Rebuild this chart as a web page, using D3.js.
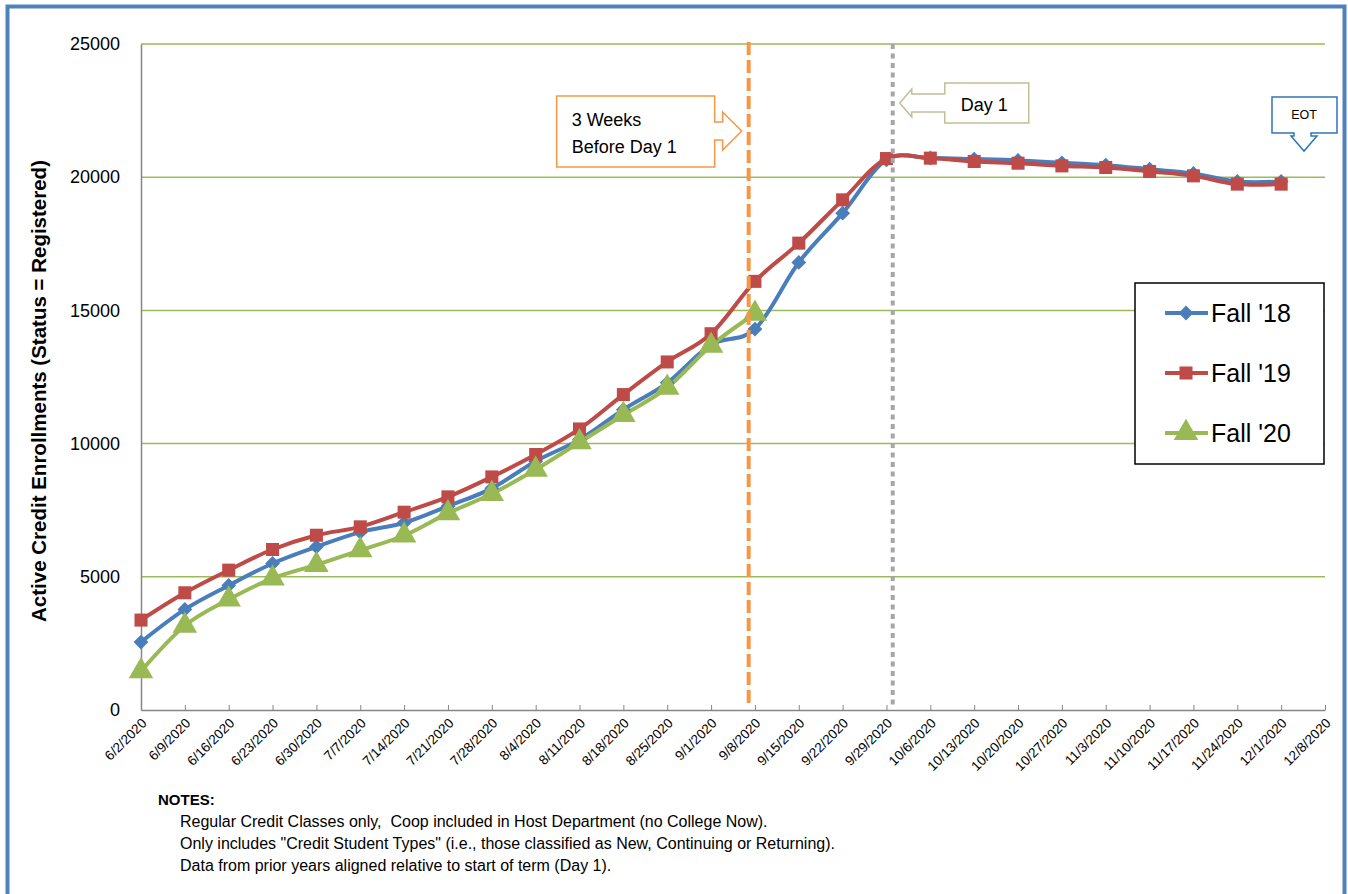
<!DOCTYPE html>
<html>
<head>
<meta charset="utf-8">
<script src="https://cdn.jsdelivr.net/npm/d3@7"></script>
<style>
  body { margin: 0; background: #fff; }
  text { font-family: "Liberation Sans", Arial, sans-serif; white-space: pre; }
</style>
</head>
<body>
<div id="chart"></div>
<script>
// week labels on the x axis
var weekLabels = ["6/2/2020", "6/9/2020", "6/16/2020", "6/23/2020", "6/30/2020", "7/7/2020",
    "7/14/2020", "7/21/2020", "7/28/2020", "8/4/2020", "8/11/2020", "8/18/2020", "8/25/2020",
    "9/1/2020", "9/8/2020", "9/15/2020", "9/22/2020", "9/29/2020", "10/6/2020", "10/13/2020",
    "10/20/2020", "10/27/2020", "11/3/2020", "11/10/2020", "11/17/2020", "11/24/2020",
    "12/1/2020", "12/8/2020"];

var yTicks = [0, 5000, 10000, 15000, 20000, 25000];

// enrollments per week
var fall18 = [2550, 3775, 4675, 5500, 6125, 6675, 7025, 7650, 8320, 9340, 10150, 11275, 12280,
    13715, 14300, 16800, 18650, 20650, 20720, 20680, 20630, 20540, 20450, 20300, 20140, 19840, 19840];
var fall19 = [3375, 4400, 5250, 6025, 6560, 6875, 7425, 8000, 8750, 9590, 10550, 11840, 13065,
    14125, 16090, 17525, 19150, 20700, 20715, 20590, 20525, 20425, 20365, 20215, 20050, 19740, 19740];
var fall20 = [1460, 3165, 4150, 4940, 5450, 6000, 6550, 7390, 8115, 9025, 10050, 11075, 12100,
    13675, 14875];

var seriesNames = ["Fall '18", "Fall '19", "Fall '20"];
var seriesColors = ["#4a7ebb", "#be4b48", "#98b954"];
// diamond = square turned 45 degrees
var seriesShapes = [d3.symbolSquare, d3.symbolSquare, d3.symbolTriangle];
var seriesTurn = [45, 0, 0];
var markerSize = [110, 170, 260];

var threeWeeksDate = "9/7/2020";
var day1Date = "9/30/2020";
var eotDate = "12/8/2020";

var notes = [
    "Regular Credit Classes only,  Coop included in Host Department (no College Now).",
    "Only includes \"Credit Student Types\" (i.e., those classified as New, Continuing or Returning).",
    "Data from prior years aligned relative to start of term (Day 1)."
];

var W = 1348, H = 894;
var margin = { top: 44, right: 23, bottom: 184, left: 141 };
var width = W - margin.left - margin.right,
    height = H - margin.top - margin.bottom;

var parse = d3.utcParse("%m/%d/%Y");
var dates = weekLabels.map(parse);

var svg = d3.select("#chart").append("svg")
    .attr("width", W)
    .attr("height", H);

// outer frame
svg.append("rect")
    .attr("x", 7.5).attr("y", 6.5)
    .attr("width", 1337).attr("height", 905)
    .attr("fill", "none")
    .attr("stroke", "#4f81bd")
    .attr("stroke-width", 4);

var g = svg.append("g")
    .attr("transform", "translate(" + margin.left + "," + margin.top + ")");

var x = d3.scaleUtc()
    .domain([dates[0], dates[dates.length - 1]])
    .range([0, width]);

var y = d3.scaleLinear()
    .domain([0, 25000])
    .range([height, 0]);

// gridlines
g.selectAll(".grid")
    .data(yTicks.filter(function(d) { return d > 0; }))
    .join("line")
    .attr("x1", 0).attr("x2", width)
    .attr("y1", function(d) { return y(d); })
    .attr("y2", function(d) { return y(d); })
    .attr("stroke", "#9bbb59")
    .attr("stroke-width", 1.5);

// y axis
var yAxis = g.append("g")
    .call(d3.axisLeft(y).tickValues(yTicks).tickSize(0).tickPadding(21).tickFormat(d3.format("d")));
yAxis.select(".domain").attr("stroke", "#868686").attr("stroke-width", 1.5);
yAxis.selectAll(".tick text")
    .attr("font-size", "18px")
    .attr("fill", "#000")
    .attr("font-family", "Liberation Sans, Arial, sans-serif");

// x axis
var xAxis = g.append("g")
    .attr("transform", "translate(0," + height + ")")
    .call(d3.axisBottom(x).tickValues(dates).tickSizeInner(-5).tickSizeOuter(0)
        .tickFormat(function(d, i) { return weekLabels[i]; }));
xAxis.select(".domain").attr("stroke", "#868686").attr("stroke-width", 1.5);
xAxis.selectAll(".tick line").attr("stroke", "#868686");
xAxis.selectAll(".tick text")
    .attr("font-size", "13.5px")
    .attr("fill", "#000")
    .attr("font-family", "Liberation Sans, Arial, sans-serif")
    .attr("text-anchor", "end")
    .attr("y", 0)
    .attr("dy", "0")
    .attr("transform", "translate(6,14) rotate(-45)");

// y axis title
svg.append("text")
    .attr("transform", "translate(46,391) rotate(-90)")
    .attr("text-anchor", "middle")
    .attr("font-size", "20.5px")
    .attr("font-weight", "bold")
    .text("Active Credit Enrollments (Status = Registered)");

// series lines and markers
var allSeries = [fall18, fall19, fall20];
var line = d3.line()
    .curve(d3.curveCardinal.tension(0))
    .x(function(d, i) { return x(dates[i]); })
    .y(function(d) { return y(d); });

allSeries.forEach(function(vals, s) {
    g.append("path")
        .datum(vals)
        .attr("fill", "none")
        .attr("stroke", seriesColors[s])
        .attr("stroke-width", 4)
        .attr("stroke-linejoin", "round")
        .attr("d", line);
});
allSeries.forEach(function(vals, s) {
    g.selectAll(".m" + s)
        .data(vals)
        .join("path")
        .attr("transform", function(d, i) {
            return "translate(" + x(dates[i]) + "," + y(d) + ") rotate(" + seriesTurn[s] + ")";
        })
        .attr("d", d3.symbol().type(seriesShapes[s]).size(markerSize[s]))
        .attr("fill", seriesColors[s]);
});

// reference lines
var xOrange = x(parse(threeWeeksDate));
var xGray = x(parse(day1Date));

g.append("line")
    .attr("x1", xOrange).attr("x2", xOrange)
    .attr("y1", -2).attr("y2", height - 2)
    .attr("stroke", "#f79646")
    .attr("stroke-width", 4)
    .attr("stroke-dasharray", "13,5");

g.append("line")
    .attr("x1", xGray).attr("x2", xGray)
    .attr("y1", 0).attr("y2", height - 3)
    .attr("stroke", "#a6a6a6")
    .attr("stroke-width", 4)
    .attr("stroke-dasharray", "5,4.5");

// callout: 3 weeks before day 1 (right arrow)
var ox = margin.left + xOrange, oy = margin.top;
var c1 = { l: ox - 192, r: ox - 34, t: oy + 52, b: oy + 123, tip: ox - 7, mid: oy + 87 };
svg.append("path")
    .attr("d", "M" + c1.l + "," + c1.t + "H" + c1.r + "V" + (c1.mid - 9) + "H" + (c1.r + 8) +
        "V" + (c1.mid - 19) + "L" + c1.tip + "," + c1.mid + "L" + (c1.r + 8) + "," + (c1.mid + 19) +
        "V" + (c1.mid + 9) + "H" + c1.r + "V" + c1.b + "H" + c1.l + "Z")
    .attr("fill", "#fff")
    .attr("stroke", "#f79646")
    .attr("stroke-width", 1.5);
svg.append("text").attr("x", c1.l + 15).attr("y", c1.t + 30)
    .attr("font-size", "18px").text("3 Weeks");
svg.append("text").attr("x", c1.l + 15).attr("y", c1.t + 57)
    .attr("font-size", "18px").text("Before Day 1");

// callout: day 1 (left arrow)
var gx = margin.left + xGray;
var c2 = { l: gx + 52, r: gx + 136, t: oy + 39, b: oy + 79, tip: gx + 7, mid: oy + 59 };
svg.append("path")
    .attr("d", "M" + c2.l + "," + c2.t + "H" + c2.r + "V" + c2.b + "H" + c2.l +
        "V" + (c2.mid + 9) + "H" + (c2.l - 33) + "V" + (c2.mid + 14) + "L" + c2.tip + "," + c2.mid +
        "L" + (c2.l - 33) + "," + (c2.mid - 14) + "V" + (c2.mid - 9) + "H" + c2.l + "Z")
    .attr("fill", "#fff")
    .attr("stroke", "#c4bd97")
    .attr("stroke-width", 1.5);
svg.append("text").attr("x", c2.l + 16).attr("y", c2.mid + 8)
    .attr("font-size", "18px").text("Day 1");

// callout: EOT (down arrow)
var ex = margin.left + x(parse(eotDate)) - 21;
var c3 = { l: ex - 32, r: ex + 33, t: oy + 53, b: oy + 89, tip: oy + 107 };
svg.append("path")
    .attr("d", "M" + c3.l + "," + c3.t + "H" + c3.r + "V" + c3.b + "H" + (ex + 7) + "V" + (c3.b + 3) +
        "H" + (ex + 13) + "L" + ex + "," + c3.tip + "L" + (ex - 13) + "," + (c3.b + 3) +
        "H" + (ex - 10) + "V" + c3.b + "H" + c3.l + "Z")
    .attr("fill", "#fff")
    .attr("stroke", "#2f75b5")
    .attr("stroke-width", 1.5);
svg.append("text").attr("x", ex).attr("y", c3.t + 22)
    .attr("text-anchor", "middle")
    .attr("font-size", "12.5px").text("EOT");

// legend
var legend = svg.append("g")
    .attr("transform", "translate(1135,283)");
legend.append("rect")
    .attr("width", 189).attr("height", 181)
    .attr("fill", "#fff")
    .attr("stroke", "#000")
    .attr("stroke-width", 1.5);
seriesNames.forEach(function(name, s) {
    var ly = 30 + s * 60;
    legend.append("line")
        .attr("x1", 30).attr("x2", 73)
        .attr("y1", ly).attr("y2", ly)
        .attr("stroke", seriesColors[s])
        .attr("stroke-width", 4);
    legend.append("path")
        .attr("transform", "translate(51," + ly + ") rotate(" + seriesTurn[s] + ")")
        .attr("d", d3.symbol().type(seriesShapes[s]).size(markerSize[s]))
        .attr("fill", seriesColors[s]);
    legend.append("text")
        .attr("x", 76).attr("y", ly)
        .attr("dy", "0.36em")
        .attr("font-size", "25px")
        .text(name);
});

// notes
svg.append("text")
    .attr("x", 158).attr("y", 805)
    .attr("font-size", "15px")
    .attr("font-weight", "bold")
    .text("NOTES:");
svg.selectAll(".note")
    .data(notes)
    .join("text")
    .attr("x", 180)
    .attr("y", function(d, i) { return 827 + i * 22; })
    .attr("font-size", "16px")
    .text(function(d) { return d; });
</script>
</body>
</html>
